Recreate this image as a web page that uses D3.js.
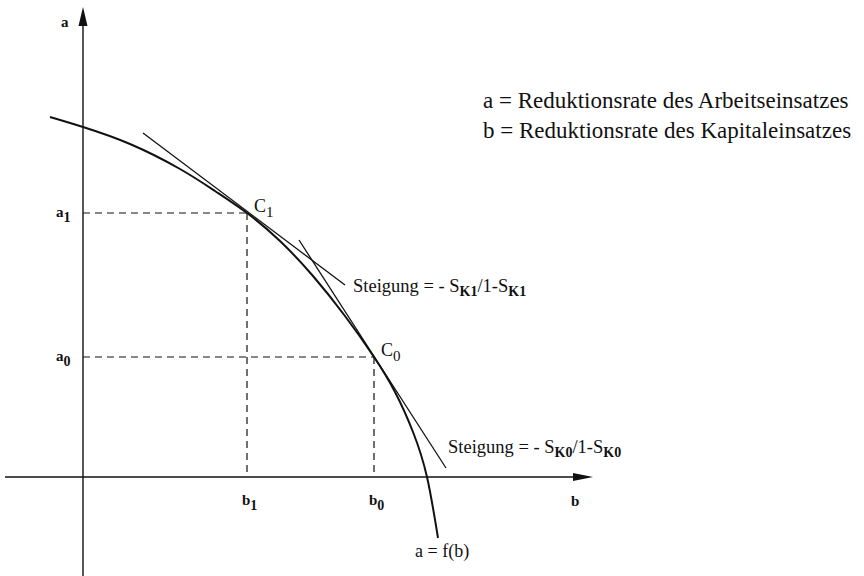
<!DOCTYPE html>
<html>
<head>
<meta charset="utf-8">
<script src="https://cdn.jsdelivr.net/npm/d3@7"></script>
<style>
  html, body { margin: 0; padding: 0; background: #fff; }
  svg text { font-family: "Liberation Serif", "Times New Roman", serif; fill: #111; }
</style>
</head>
<body>
<svg id="chart"></svg>
<script>
// Transformation curve a = f(b) (b, a)
const curveB = [-6.6, 0, 9.4, 19.4, 26.4, 32.8, 39.4, 46, 52.4, 58.2, 62.4, 66, 68.8, 71];
const curveA = [72, 70, 66.6, 61.6, 57.2, 52.8, 47.2, 40.2, 32.2, 24, 17, 9, 0, -12.2];

// Points C1 and C0
const pointNames = ["1", "0"];
const pointB = [32.8, 58.2];
const pointA = [52.8, 24];

// Tangent segments at C1 and C0 (start and end)
const tangentB0 = [12, 43.2];
const tangentA0 = [68.8, 47.4];
const tangentB1 = [52.4, 72.6];
const tangentA1 = [38.4, 1.8];

// Axis extents
const bAxis = [-15.6, 102];
const aAxis = [-19.8, 94];

const legendLines = [
    "a = Reduktionsrate des Arbeitseinsatzes",
    "b = Reduktionsrate des Kapitaleinsatzes"
];

const width = 864;
const height = 576;

const x = d3.scaleLinear().domain([0, 100]).range([83, 583]);
const y = d3.scaleLinear().domain([0, 94]).range([477, 7]);

const svg = d3.select("#chart")
    .attr("width", width)
    .attr("height", height)
    .attr("viewBox", [0, 0, width, height]);

// Axes with arrowheads
svg.append("line")
    .attr("x1", x(bAxis[0])).attr("x2", x(bAxis[1]) - 10)
    .attr("y1", y(0)).attr("y2", y(0))
    .attr("stroke", "#111").attr("stroke-width", 1.4);
svg.append("path")
    .attr("d", `M${x(bAxis[1])},${y(0)} L${x(bAxis[1]) - 20},${y(0) - 4} L${x(bAxis[1]) - 20},${y(0) + 4} Z`)
    .attr("fill", "#111");

svg.append("line")
    .attr("x1", x(0)).attr("x2", x(0))
    .attr("y1", y(aAxis[0])).attr("y2", y(aAxis[1]) + 10)
    .attr("stroke", "#111").attr("stroke-width", 1.4);
svg.append("path")
    .attr("d", `M${x(0)},${y(aAxis[1])} L${x(0) - 4.5},${y(aAxis[1]) + 19} L${x(0) + 4.5},${y(aAxis[1]) + 19} Z`)
    .attr("fill", "#111");

// Dashed guide lines to the axes
const guides = svg.append("g")
    .attr("stroke", "#111")
    .attr("stroke-width", 1.2)
    .attr("stroke-dasharray", "7,5")
    .attr("fill", "none");

pointB.forEach((b, i) => {
    guides.append("line")
        .attr("x1", x(0)).attr("x2", x(b))
        .attr("y1", y(pointA[i])).attr("y2", y(pointA[i]));
    guides.append("line")
        .attr("x1", x(b)).attr("x2", x(b))
        .attr("y1", y(pointA[i])).attr("y2", y(0));
});

// Tangents
svg.append("g")
    .attr("stroke", "#111")
    .attr("stroke-width", 1.3)
    .selectAll("line")
    .data(d3.range(2))
    .join("line")
    .attr("x1", i => x(tangentB0[i]))
    .attr("y1", i => y(tangentA0[i]))
    .attr("x2", i => x(tangentB1[i]))
    .attr("y2", i => y(tangentA1[i]));

// Curve
const line = d3.line()
    .x(d => x(d[0]))
    .y(d => y(d[1]))
    .curve(d3.curveNatural);

svg.append("path")
    .datum(curveB.map((b, i) => [b, curveA[i]]))
    .attr("d", line)
    .attr("fill", "none")
    .attr("stroke", "#111")
    .attr("stroke-width", 2);

// Helper for text with subscript
function subLabel(g, px, py, main, sub, size, bold, subSize) {
    const t = g.append("text")
        .attr("x", px).attr("y", py)
        .style("font-size", size + "px")
        .style("font-weight", bold ? "bold" : "normal");
    t.append("tspan").text(main);
    t.append("tspan").attr("dy", 5).style("font-size", subSize + "px").text(sub);
    return t;
}

const labels = svg.append("g");

// Axis titles
labels.append("text").attr("x", 61).attr("y", 27)
    .style("font-size", "15px").style("font-weight", "bold").text("a");
labels.append("text").attr("x", 571).attr("y", 506)
    .style("font-size", "15px").style("font-weight", "bold").text("b");

// a1, a0, b1, b0, C1, C0 labels
pointNames.forEach((n, i) => {
    subLabel(labels, x(0) - 27, y(pointA[i]) + 4, "a", n, 15, true, 14);
    subLabel(labels, x(pointB[i]) - 5, y(0) + 28, "b", n, 15, true, 14);
    subLabel(labels, x(pointB[i]) + 7, y(pointA[i]) - 1, "C", n, 18, false, 15);
});

// Slope labels
function slopeLabel(px, py, n) {
    const t = labels.append("text")
        .attr("x", px).attr("y", py)
        .style("font-size", "18.5px");
    t.append("tspan").text("Steigung = - S");
    t.append("tspan").attr("dy", 4).style("font-size", "14px").style("font-weight", "bold").text("K" + n);
    t.append("tspan").attr("dy", -4).text("/1-S");
    t.append("tspan").attr("dy", 4).style("font-size", "14px").style("font-weight", "bold").text("K" + n);
}
slopeLabel(353, 292, "1");
slopeLabel(448, 453, "0");

// Curve label
labels.append("text").attr("x", 415).attr("y", 557)
    .style("font-size", "18px").text("a = f(b)");

// Legend
labels.selectAll(".legend")
    .data(legendLines)
    .join("text")
    .attr("class", "legend")
    .attr("x", 483)
    .attr("y", (d, i) => 108 + i * 30)
    .style("font-size", "23px")
    .text(d => d);
</script>
</body>
</html>
